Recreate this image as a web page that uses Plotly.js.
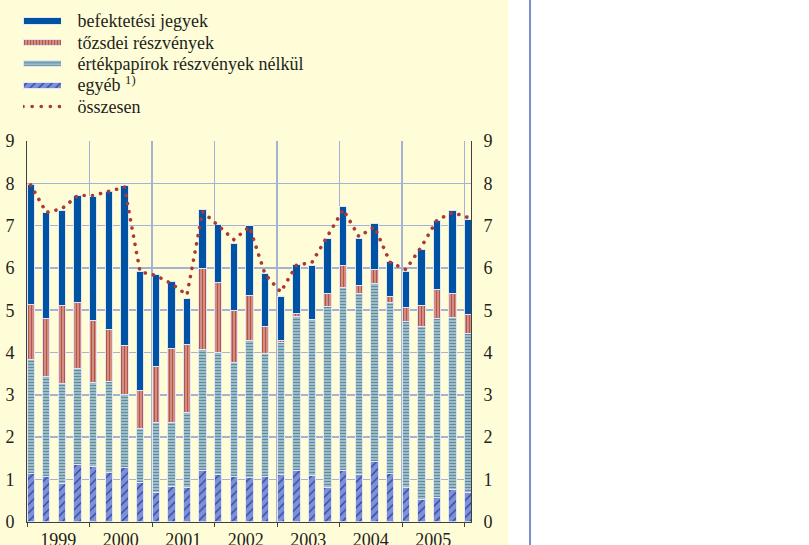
<!DOCTYPE html>
<html>
<head>
<meta charset="utf-8">
<script src="https://cdn.plot.ly/plotly-3.0.1.min.js"></script>
<style>
html,body{margin:0;padding:0;background:#ffffff;}
#chart{width:809px;height:545px;}
.js-line{stroke-linecap:round !important;}
</style>
</head>
<body>
<div id="chart"></div>
<script>
// ---- data ----
const quarters = ['1999 Q1','1999 Q2','1999 Q3','1999 Q4','2000 Q1','2000 Q2','2000 Q3','2000 Q4',
  '2001 Q1','2001 Q2','2001 Q3','2001 Q4','2002 Q1','2002 Q2','2002 Q3','2002 Q4',
  '2003 Q1','2003 Q2','2003 Q3','2003 Q4','2004 Q1','2004 Q2','2004 Q3','2004 Q4',
  '2005 Q1','2005 Q2','2005 Q3','2005 Q4','2006 Q1'];
const years = ['1999','2000','2001','2002','2003','2004','2005'];

const egyeb        = [1.13,1.07,0.91,1.35,1.31,1.17,1.28,0.93,0.69,0.83,0.81,1.21,1.12,1.07,1.05,1.07,1.12,1.20,1.09,0.81,1.20,1.12,1.43,1.14,0.80,0.53,0.57,0.77,0.68];
const ertekpapirok = [2.71,2.37,2.36,2.27,1.98,2.15,1.73,1.27,1.66,1.52,1.78,2.85,2.88,2.70,3.23,2.91,3.12,3.66,3.69,4.28,4.34,4.27,4.20,4.04,3.94,4.09,4.24,4.06,3.77];
const tozsdei      = [1.30,1.37,1.83,1.56,1.47,1.22,1.16,0.89,1.31,1.74,1.60,1.92,1.65,1.22,1.07,0.63,0.04,0.07,0.00,0.31,0.51,0.20,0.34,0.14,0.32,0.49,0.69,0.56,0.45];
const befektetesi  = [2.82,2.49,2.26,2.52,2.93,3.26,3.77,2.82,2.19,1.58,1.08,1.39,1.38,1.59,1.65,1.25,1.05,1.16,1.27,1.29,1.41,1.10,1.08,0.84,0.85,1.32,1.62,1.96,2.24];
const osszesen     = [7.96,7.31,7.40,7.71,7.71,7.81,7.91,5.91,5.82,5.63,5.36,7.33,6.99,6.67,6.97,5.85,5.43,6.06,6.13,6.76,7.38,6.74,6.97,6.13,5.96,6.50,7.13,7.31,7.19];

const seriesKeys   = ['befektetési jegyek','tőzsdei részvények','értékpapírok részvények nélkül','egyéb','összesen'];
const seriesLabels = ['befektetési jegyek','tőzsdei részvények','értékpapírok részvények nélkül','egyéb <sup>1)</sup>','összesen'];
const yTicks = [0,1,2,3,4,5,6,7,8,9];

// ---- styling ----
const W = 809, H = 545;
const FONT = '"Liberation Serif", "Times New Roman", serif';
const FS = 18;
const TXT = '#231f20';
const GRID = '#a6b1d6';
const AXIS = '#404040';
const BAR_W = 0.47;
const outline = {color:'#e2e5f5', width:1};

const mBlue  = {color:'#0052a2', line:outline};
const mPink  = {color:'#d6927f', line:outline,
  pattern:{shape:'|', fgcolor:'#b3564a', bgcolor:'#dc9e92', size:3, solidity:0.5}};
const mTeal  = {color:'#a3c1ca', line:outline,
  pattern:{shape:'-', fgcolor:'#5e8d9e', bgcolor:'#aac6ce', size:3, solidity:0.45}};
const mEgyeb = {color:'#7f8fd2', line:outline,
  pattern:{shape:'/', fgcolor:'#2846a6', bgcolor:'#7f91d4', size:6, solidity:0.22}};
const totalColor = '#a93a36';

const xIdx = quarters.map((q, i) => i);
const totalX = xIdx.map(i => i + BAR_W / 2);
const yearCenters = years.map((y, k) => 4 * k + 2);

function barTrace(vals, marker, name) {
  return {type:'bar', x:xIdx, y:vals, name:name, offset:0, width:BAR_W,
    marker:marker, xaxis:'x', yaxis:'y', showlegend:false, hoverinfo:'skip'};
}

const traces = [
  barTrace(egyeb, mEgyeb, seriesKeys[3]),
  barTrace(ertekpapirok, mTeal, seriesKeys[2]),
  barTrace(tozsdei, mPink, seriesKeys[1]),
  barTrace(befektetesi, mBlue, seriesKeys[0]),
  {type:'scatter', mode:'lines', x:totalX, y:osszesen, name:seriesKeys[4],
    xaxis:'x', yaxis:'y2', showlegend:false, hoverinfo:'skip',
    line:{color:totalColor, width:3.6, dash:'0.1px,8.2px'}}
];

// legend swatches drawn on a small auxiliary axis pair
const legendMarkers = [mBlue, mPink, mTeal, mEgyeb];
legendMarkers.forEach((m, k) => {
  traces.push({type:'bar', orientation:'h', x:[1], y:[seriesKeys[k]], base:0, width:0.29,
    marker:m, xaxis:'x3', yaxis:'y3', showlegend:false, hoverinfo:'skip'});
});
traces.push({type:'scatter', mode:'lines', x:[0,1], y:[seriesKeys[4], seriesKeys[4]],
  xaxis:'x3', yaxis:'y3', showlegend:false, hoverinfo:'skip',
  line:{color:totalColor, width:3.6, dash:'0.1px,9px'}});

const plotL = 27, plotR = 471, plotT = 141, plotB = 521.7;

const layout = {
  width:W, height:H,
  margin:{l:0, r:0, t:0, b:0, pad:0},
  paper_bgcolor:'#ffffff', plot_bgcolor:'rgba(0,0,0,0)',
  font:{family:FONT, size:FS, color:TXT},
  barmode:'stack', bargap:0,
  showlegend:false,
  xaxis:{
    domain:[plotL/W, plotR/W], range:[0, 28.41], anchor:'y',
    tickmode:'array', tickvals:yearCenters, ticktext:years,
    ticks:'outside', ticklen:2, tickcolor:'rgba(0,0,0,0)',
    showgrid:false, zeroline:false,
    showline:true, linecolor:AXIS, linewidth:1,
    minor:{tickmode:'linear', tick0:0, dtick:4, ticks:'outside', ticklen:4,
      tickcolor:AXIS, tickwidth:1, showgrid:true, gridcolor:GRID, gridwidth:1.5},
    layer:'below traces', fixedrange:true,
    tickfont:{family:FONT, size:FS, color:TXT}
  },
  yaxis:{
    domain:[(H-plotB)/H, (H-plotT)/H], range:[0,9], anchor:'x',
    tickmode:'array', tickvals:yTicks,
    ticks:'outside', ticklen:8, tickcolor:'rgba(0,0,0,0)',
    showgrid:true, gridcolor:GRID, gridwidth:1.5, zeroline:false,
    showline:true, mirror:true, linecolor:AXIS, linewidth:1,
    layer:'below traces', fixedrange:true,
    tickfont:{family:FONT, size:FS, color:TXT}
  },
  yaxis2:{
    overlaying:'y', side:'right', anchor:'x', range:[0,9],
    tickmode:'array', tickvals:yTicks,
    ticks:'outside', ticklen:8, tickcolor:'rgba(0,0,0,0)',
    showgrid:false, zeroline:false, showline:false, fixedrange:true,
    tickfont:{family:FONT, size:FS, color:TXT}
  },
  xaxis3:{
    domain:[23/W, 61/W], range:[0,1], anchor:'y3', visible:false, fixedrange:true
  },
  yaxis3:{
    domain:[(H-117.2)/H, (H-10.3)/H], anchor:'x3', side:'right',
    type:'category', categoryorder:'array', categoryarray:seriesKeys,
    range:[4.5,-0.5],
    tickmode:'array', tickvals:seriesKeys, ticktext:seriesLabels,
    ticks:'outside', ticklen:12, tickcolor:'rgba(0,0,0,0)',
    showgrid:false, zeroline:false, showline:false, fixedrange:true,
    tickfont:{family:FONT, size:FS, color:TXT}
  },
  shapes:[
    {type:'rect', xref:'paper', yref:'paper', x0:0, x1:508/W, y0:0, y1:1,
      fillcolor:'#fffdd8', line:{width:0}, layer:'below'},
    {type:'line', xref:'paper', yref:'paper', x0:530/W, x1:530/W, y0:0, y1:1,
      line:{color:'#7b8fc8', width:2}, layer:'below'}
  ]
};

Plotly.newPlot('chart', traces, layout, {displayModeBar:false, staticPlot:true});
</script>
</body>
</html>
